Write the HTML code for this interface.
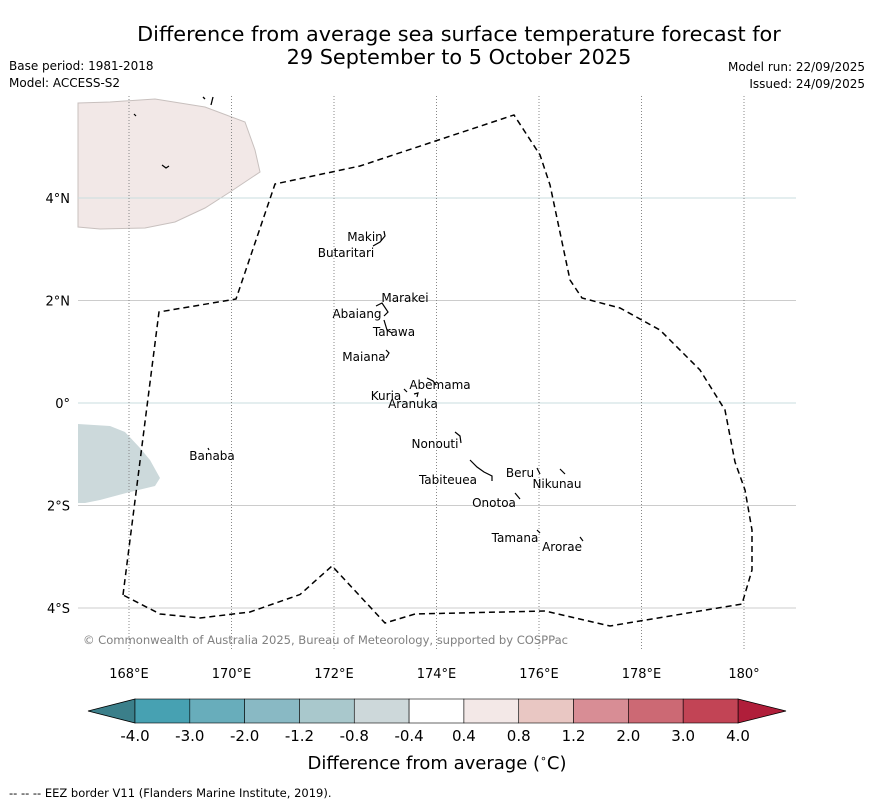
<!DOCTYPE html>
<html><head><meta charset="utf-8"><style>
body{margin:0;background:#fff;font-family:"DejaVu Sans","Liberation Sans",sans-serif;}
svg text{font-family:"DejaVu Sans","Liberation Sans",sans-serif;}
</style></head><body>
<svg id="chart" width="873" height="804" xmlns="http://www.w3.org/2000/svg">
<text x="459" y="41" font-size="20.8" text-anchor="middle">Difference from average sea surface temperature forecast for</text>
<text x="459" y="64" font-size="20.8" text-anchor="middle">29 September to 5 October 2025</text>
<text x="9" y="70" font-size="12">Base period: 1981-2018</text>
<text x="9" y="87" font-size="12">Model: ACCESS-S2</text>
<text x="865" y="71" font-size="12" text-anchor="end">Model run: 22/09/2025</text>
<text x="865" y="88" font-size="12" text-anchor="end">Issued: 24/09/2025</text>
<g id="map"></g>
<g id="cbar"></g>
<text x="437" y="769" font-size="18" text-anchor="middle">Difference from average (<tspan font-size="11" dy="-7">∘</tspan><tspan dy="7">C)</tspan></text>
<text x="9" y="797" font-size="11.5">--  --  -- EEZ border V11 (Flanders Marine Institute, 2019).</text>
</svg>
<script>
const lonTicks=[168,170,172,174,176,178,180];
const lonLabels=["168°E","170°E","172°E","174°E","176°E","178°E","180°"];
const latTicks=[4,2,0,-2,-4];
const latLabels=["4°N","2°N","0°","2°S","4°S"];
const eezLon=[167.883,168.585,170.088,170.849,172.507,175.512,176.020,176.215,176.605,176.839,177.580,178.361,179.141,179.629,179.824,180.020,180.156,180.156,179.961,177.385,176.117,173.580,172.995,171.961,171.337,170.361,169.385,168.605,167.883];
const eezLat=[-3.746,1.776,2.029,4.273,4.624,5.620,4.839,4.254,2.400,2.049,1.854,1.424,0.644,-0.137,-1.151,-1.698,-2.478,-3.259,-3.922,-4.351,-4.059,-4.117,-4.293,-3.180,-3.737,-4.078,-4.195,-4.117,-3.746];
const islandNames=["Makin","Butaritari","Marakei","Abaiang","Tarawa","Maiana","Abemama","Kuria","Aranuka","Nonouti","Banaba","Beru","Tabiteuea","Nikunau","Onotoa","Tamana","Arorae"];
const islandLon=[172.605,172.234,173.385,172.449,173.171,172.585,174.068,173.015,173.541,173.971,169.620,175.629,174.224,176.351,175.122,175.532,176.449];
const islandLat=[3.239,2.927,2.049,1.737,1.385,0.898,0.351,0.137,-0.020,-0.800,-1.034,-1.366,-1.502,-1.580,-1.951,-2.634,-2.810];
const cbBounds=["-4.0","-3.0","-2.0","-1.2","-0.8","-0.4","0.4","0.8","1.2","2.0","3.0","4.0"];
const cbColors=["#47a1b2","#68adbb","#89b9c4","#a9c8cc","#cdd8da","#ffffff","#f3e8e7","#e9c7c3","#d88d95","#cc6974","#c24455"];
const cbLow="#3b7f8a", cbHigh="#b01e3a";

const NS="http://www.w3.org/2000/svg";
const PX=51.25;
const xs=lon=>129+(lon-168)*PX;
const ys=lat=>403-lat*PX;
function mk(tag,attrs,parent){const e=document.createElementNS(NS,tag);for(const k in attrs)e.setAttribute(k,attrs[k]);parent.appendChild(e);return e;}
const map=document.getElementById('map');
let p=mk('polygon',{points:"78,103 110,102 155,99 205,107 245,122 255,150 260,172 230,192 205,208 175,222 145,228 100,229 78,227",fill:"#f2e8e7",stroke:"#c8c0be","stroke-width":"1"},map);


p=mk('polygon',{points:"78,424 110,426 125,432 140,448 150,460 160,478 155,486 130,492 100,500 85,503 78,503",fill:"#ccd9db"},map);


latTicks.forEach((t,i)=>{
 const y=ys(t);
 const l=mk('line',{x1:78,x2:796,y1:y,y2:y,stroke:(t===4||t===0)?"#c9dedf":"#cccccc","stroke-width":1},map);
 
 
 const tx=mk('text',{x:70,y:y+5,"font-size":13,"text-anchor":"end"},map);tx.textContent=latLabels[i];
 
 
});
lonTicks.forEach((t,i)=>{
 const x=xs(t);
 const l=mk('line',{x1:x,x2:x,y1:96,y2:650,stroke:"#888","stroke-width":1,"stroke-dasharray":"1,2"},map);
 
 
 const tx=mk('text',{x:x,y:678,"font-size":13,"text-anchor":"middle"},map);tx.textContent=lonLabels[i];
 
 
});
const pts=eezLon.map((v,i)=>xs(v)+","+ys(eezLat[i])).join(" ");
const eez=mk('polyline',{points:pts,fill:"none",stroke:"#000","stroke-width":1.5,"stroke-dasharray":"6,4"},map);


mk('line',{x1:203,y1:97,x2:205,y2:99,stroke:"#000","stroke-width":1.3},map);
mk('line',{x1:213,y1:97,x2:211,y2:105,stroke:"#000","stroke-width":1.3},map);
// atoll outlines
const atolls=["M384,231 L385,236 L380,242 L373,246","M376,306 L382,303 L388,312 L384,316","M384,320 L387,330 L392,333","M386,350 L389,353 L386,358","M427,378 L433,381 L436,385","M404,389 L407,392","M414,394 L418,393 L417,397","M455,432 L460,436 L461,443","M470,460 L477,467 L484,472 L492,476 L492,481","M537,468 L540,474","M560,469 L565,474","M515,493 L520,499","M537,530 L540,533","M580,537 L583,541","M134,114 L136,116","M162,165 L166,168 L169,166","M208,448 L209,450"];
atolls.forEach(d=>{
 const a=mk('path',{d:d,fill:"none",stroke:"#000","stroke-width":1.2},map);
 
 
});
islandNames.forEach((n,i)=>{
 const t=mk('text',{x:xs(islandLon[i]),y:ys(islandLat[i])+4,"font-size":12,"text-anchor":"middle"},map);
 t.textContent=n;
 
 
});
const copy=mk('text',{x:83,y:644,"font-size":11.6,fill:"#808080",textLength:485},map);
copy.textContent="© Commonwealth of Australia 2025, Bureau of Meteorology, supported by COSPPac";


const cb=document.getElementById('cbar');
const cx0=135,cx1=738,cy0=699,cy1=723,w=(cx1-cx0)/cbColors.length;
let tri=mk('polygon',{points:`${cx0},${cy0} ${cx0},${cy1} 88,711`,fill:cbLow,stroke:"#000","stroke-width":0.8},cb);


tri=mk('polygon',{points:`${cx1},${cy0} ${cx1},${cy1} 786,711`,fill:cbHigh,stroke:"#000","stroke-width":0.8},cb);


cbColors.forEach((c,i)=>{
 const r=mk('rect',{x:cx0+i*w,y:cy0,width:w,height:cy1-cy0,fill:c,stroke:"#000","stroke-width":0.6},cb);
 
 
});
cbBounds.forEach((b,i)=>{
 const t=mk('text',{x:cx0+i*w,y:741,"font-size":15,"text-anchor":"middle"},cb);
 t.textContent=b;
 
 
});
</script>
</body></html>
